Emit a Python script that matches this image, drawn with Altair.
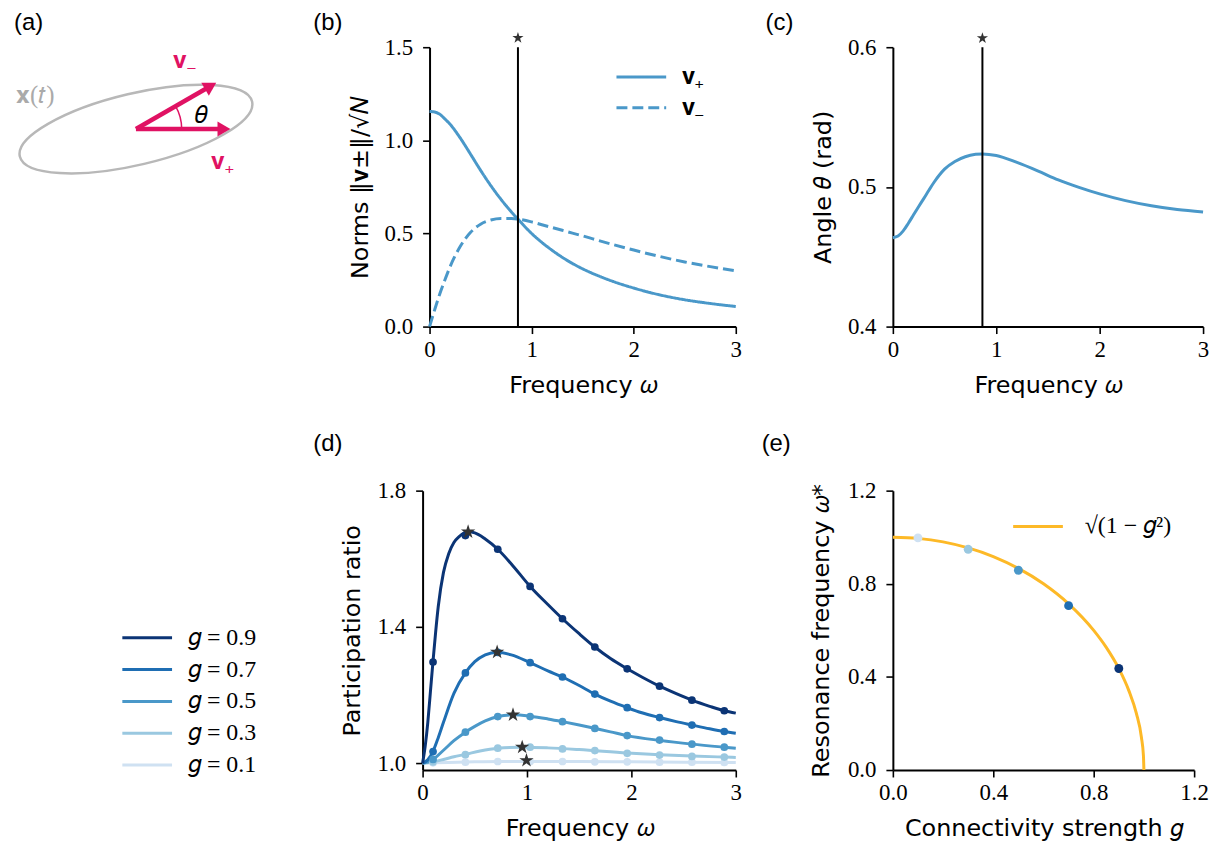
import altair as alt
import pandas as pd

# ---------------- fonts / colours ----------------
SANS = "DejaVu Sans"
SERIF = "Liberation Serif"
LABEL_FONT = "Liberation Sans"
BLUE = "#4a98c9"
PINK = "#e01263"
GRAY = "#b8b8b8"
ORANGE = "#fdb927"
STARC = "#333333"

STAR = ("M0,-1L0.2245,-0.309L0.9511,-0.309L0.3633,0.118L0.5878,0.809L0,0.382"
        "L-0.5878,0.809L-0.3633,0.118L-0.9511,-0.309L-0.2245,-0.309Z")
ELLIPSE = ("M-1,0C-1,-0.1657,-0.5523,-0.3,0,-0.3C0.5523,-0.3,1,-0.1657,1,0"
           "C1,0.1657,0.5523,0.3,0,0.3C-0.5523,0.3,-1,0.1657,-1,0Z")
ARC30 = "M1,0C1,-0.1755,0.9538,-0.348,0.866,-0.5"
LEGLINE = "M-2.5,0L2.5,0"

# ---------------- data ----------------
# (a) schematic, in units of |v+|
ell_center_x = [0.0]
ell_center_y = [0.0]
vec_names = ["v+", "v-"]
vec_tip_x = [1.0, 0.85]
vec_tip_y = [0.0, 0.49]
vec_angle_deg = [0.0, 30.4]
lab_text = ["𝐯₋", "𝐯₊"]
lab_x = [0.393, 0.793]
lab_y = [0.648, -0.418]
xt_text = ["𝐱(𝑡)"]
xt_x = [-1.2705]
xt_y = [0.28]
th_text = ["𝜃"]
th_x = [0.624]
th_y = [0.069]

# (b) norms of v+ / v- (g = 0.5)
w_b = [0, 0.05, 0.1, 0.15, 0.2, 0.3, 0.4, 0.5, 0.6, 0.7, 0.8, 0.866, 1.0, 1.1, 1.2,
       1.3, 1.4, 1.5, 1.6, 1.8, 2.0, 2.25, 2.5, 2.75, 3.0]
norm_plus = [1.155, 1.152, 1.14, 1.115, 1.087, 1.013, 0.927, 0.839, 0.757, 0.683,
             0.617, 0.577, 0.500, 0.452, 0.410, 0.372, 0.339, 0.310, 0.285, 0.242,
             0.207, 0.171, 0.144, 0.124, 0.108]
norm_minus = [0.0, 0.09, 0.175, 0.25, 0.32, 0.43, 0.505, 0.55, 0.572, 0.58, 0.58,
              0.577, 0.562, 0.547, 0.532, 0.517, 0.502, 0.487, 0.471, 0.440, 0.411,
              0.377, 0.347, 0.322, 0.30]
omega_star = 0.866

# (c) angle theta
w_c = [0, 0.05, 0.1, 0.15, 0.2, 0.25, 0.3, 0.35, 0.4, 0.45, 0.5, 0.6, 0.7, 0.8, 0.866,
       1.0, 1.2, 1.4, 1.6, 1.8, 2.0, 2.25, 2.5, 2.75, 3.0]
theta_c = [0.4636, 0.4648, 0.4685, 0.474, 0.480, 0.486, 0.4918, 0.4978, 0.5035,
           0.5085, 0.5127, 0.5182, 0.5216, 0.5233, 0.5236, 0.5225, 0.5175, 0.5115,
           0.5050, 0.4997, 0.4950, 0.4902, 0.4865, 0.4838, 0.4821]

# (d) participation ratio
g_levels = ["0.9", "0.7", "0.5", "0.3", "0.1"]
g_colors = ["#0b3475", "#1f6eb3", "#4a98c9", "#9ac8e0", "#cfe1f2"]
w_09 = [0, 0.025, 0.05, 0.075, 0.1, 0.125, 0.15, 0.2, 0.25, 0.3, 0.35, 0.436, 0.5,
        0.6, 0.72, 0.85, 1.03, 1.2, 1.34, 1.5, 1.65, 1.8, 1.96, 2.1, 2.27, 2.43,
        2.58, 2.75, 2.89, 3.0]
pr_09 = [1.0, 1.05, 1.12, 1.21, 1.30, 1.385, 1.46, 1.56, 1.615, 1.648, 1.665, 1.679,
         1.676, 1.658, 1.628, 1.585, 1.519, 1.466, 1.424, 1.38, 1.341, 1.307, 1.277,
         1.253, 1.226, 1.204, 1.185, 1.167, 1.154, 1.147]
w_07 = [0, 0.05, 0.1, 0.15, 0.2, 0.3, 0.41, 0.5, 0.6, 0.714, 0.85, 1.03, 1.2, 1.34,
        1.5, 1.65, 1.8, 1.96, 2.1, 2.27, 2.43, 2.58, 2.75, 2.89, 3.0]
pr_07 = [1.0, 1.01, 1.035, 1.075, 1.12, 1.205, 1.265, 1.298, 1.318, 1.326, 1.318,
         1.295, 1.271, 1.253, 1.228, 1.203, 1.182, 1.163, 1.148, 1.134, 1.122,
         1.112, 1.101, 1.093, 1.088]
w_05 = [0, 0.05, 0.1, 0.2, 0.3, 0.41, 0.5, 0.6, 0.72, 0.866, 1.03, 1.2, 1.34, 1.5,
        1.65, 1.8, 1.96, 2.27, 2.58, 2.89, 3.0]
pr_05 = [1.0, 1.003, 1.011, 1.038, 1.066, 1.091, 1.108, 1.124, 1.137, 1.142, 1.138,
         1.13, 1.122, 1.112, 1.102, 1.092, 1.081, 1.067, 1.056, 1.047, 1.044]
w_03 = [0, 0.1, 0.2, 0.3, 0.41, 0.55, 0.72, 0.954, 1.2, 1.5, 1.96, 2.27, 2.58, 2.89, 3.0]
pr_03 = [1.0, 1.004, 1.011, 1.019, 1.026, 1.036, 1.044, 1.047, 1.045, 1.04, 1.03,
         1.025, 1.021, 1.018, 1.017]
w_01 = [0, 0.25, 0.5, 0.75, 1.0, 1.5, 2.0, 2.5, 3.0]
pr_01 = [1.0, 1.002, 1.004, 1.005, 1.005, 1.005, 1.004, 1.003, 1.002]

w_sim = [0.1, 0.41, 0.72, 1.03, 1.34, 1.65, 1.96, 2.27, 2.58, 2.89]
sim_09 = [1.297, 1.668, 1.628, 1.519, 1.424, 1.341, 1.277, 1.226, 1.185, 1.154]
sim_07 = [1.034, 1.265, 1.325, 1.295, 1.253, 1.203, 1.163, 1.134, 1.112, 1.093]
sim_05 = [1.011, 1.091, 1.137, 1.137, 1.122, 1.102, 1.081, 1.068, 1.056, 1.047]
sim_03 = [1.004, 1.025, 1.044, 1.047, 1.042, 1.037, 1.029, 1.024, 1.020, 1.018]
sim_01 = [1.001, 1.003, 1.005, 1.005, 1.005, 1.004, 1.004, 1.003, 1.003, 1.002]

star_w = [0.436, 0.714, 0.866, 0.954, 0.995]
star_pr = [1.679, 1.326, 1.142, 1.047, 1.008]

# (e) resonance frequency
g_pts = [0.1, 0.3, 0.5, 0.7, 0.9]
g_pts_lab = ["0.1", "0.3", "0.5", "0.7", "0.9"]
wres_pts = [0.997, 0.948, 0.858, 0.706, 0.436]
g_curve = [0, 0.1, 0.2, 0.3, 0.4, 0.5, 0.6, 0.7, 0.8, 0.85, 0.9, 0.94, 0.97, 0.99,
           0.998, 1.0]
wres_curve = [1.0, 0.995, 0.98, 0.954, 0.917, 0.866, 0.80, 0.714, 0.60, 0.527, 0.436,
              0.341, 0.243, 0.141, 0.063, 0.0]
curve_label = "√(1 − 𝑔²)"

panel_letters = ["(a)", "(b)", "(c)", "(d)", "(e)"]


def sc(domain, **kw):
    return alt.Scale(domain=domain, nice=False, zero=False, **kw)


def plabel(text, dx, dy):
    return alt.Chart(pd.DataFrame({"t": [text]})).mark_text(
        align="left", baseline="top", font=LABEL_FONT, fontSize=24, color="black").encode(
        x=alt.value(dx), y=alt.value(dy), text="t:N")


# ---------------- (a) ----------------
xa = alt.X("x:Q", scale=sc([-1.3126, 1.3716]), axis=None)
ya = alt.Y("y:Q", scale=sc([-2.0916, 0.8663]), axis=None)

ell = alt.Chart(pd.DataFrame({"x": ell_center_x, "y": ell_center_y})).mark_point(
    shape=ELLIPSE, size=57600, angle=346.7, filled=False, color=GRAY,
    strokeWidth=2.5, opacity=1).encode(x=xa, y=ya)

head_off = 0.0684
vec_df = pd.DataFrame({
    "name": vec_names,
    "x": [0.0, 0.0], "y": [0.0, 0.0],
    "hx": [tx - head_off * (tx / (tx ** 2 + ty ** 2) ** 0.5) for tx, ty in zip(vec_tip_x, vec_tip_y)],
    "hy": [ty - head_off * (ty / (tx ** 2 + ty ** 2) ** 0.5) for tx, ty in zip(vec_tip_x, vec_tip_y)],
    "rot": [(360 - a) % 360 for a in vec_angle_deg],
})
shafts = alt.Chart(vec_df).mark_rule(color=PINK, strokeWidth=4.5, strokeCap="butt").encode(
    x=xa, y=ya, x2="hx:Q", y2="hy:Q")
heads = alt.Chart(vec_df).mark_point(shape="triangle-right", size=225, filled=True,
                                     color=PINK, opacity=1, strokeWidth=0).encode(
    x=alt.X("hx:Q", scale=sc([-1.3126, 1.3716]), axis=None),
    y=alt.Y("hy:Q", scale=sc([-2.0916, 0.8663]), axis=None),
    angle=alt.Angle("rot:Q", scale=None))
arc = alt.Chart(pd.DataFrame({"x": [0.0], "y": [0.0]})).mark_point(
    shape=ARC30, size=8464, filled=False, color=PINK, strokeWidth=1.5, opacity=1).encode(x=xa, y=ya)
vlabels = alt.Chart(pd.DataFrame({"x": lab_x, "y": lab_y, "t": lab_text})).mark_text(
    align="left", baseline="alphabetic", font=SERIF, fontSize=25, color=PINK).encode(
    x=xa, y=ya, text="t:N")
xtlabel = alt.Chart(pd.DataFrame({"x": xt_x, "y": xt_y, "t": xt_text})).mark_text(
    align="left", baseline="alphabetic", font=SERIF, fontSize=25, color="#aaaaaa").encode(
    x=xa, y=ya, text="t:N")
thlabel = alt.Chart(pd.DataFrame({"x": th_x, "y": th_y, "t": th_text})).mark_text(
    align="left", baseline="alphabetic", font=SERIF, fontSize=25, color="black").encode(
    x=xa, y=ya, text="t:N")
pa = alt.layer(ell, shafts, heads, arc, vlabels, xtlabel, thlabel,
               plabel(panel_letters[0], 2, -36)).properties(width=255, height=281)

# ---------------- (b) ----------------
n_b = len(w_b)
df_b = pd.DataFrame({"w": w_b + w_b, "v": norm_plus + norm_minus,
                     "vec": ["𝐯₊"] * n_b + ["𝐯₋"] * n_b})
xb = alt.X("w:Q", scale=sc([0, 3], range=[7, 315]),
           axis=alt.Axis(values=[0, 1, 2, 3], format="d", title="Frequency 𝜔", titlePadding=12))
yb = alt.Y("v:Q", scale=sc([0, 1.5]),
           axis=alt.Axis(values=[0, 0.5, 1.0, 1.5], format=".1f", title="Norms ‖𝐯±‖/√𝑁",
                         titlePadding=12, offset=-7))
leg_common = dict(title=None, orient="none", symbolType=LEGLINE, symbolSize=400,
                  symbolStrokeWidth=3, symbolFillColor="transparent", labelFont=SERIF,
                  labelFontSize=24, labelColor="black", padding=0)
lines_b = alt.Chart(df_b).mark_line(color=BLUE, strokeWidth=3, interpolate="monotone").encode(
    x=xb, y=yb,
    strokeDash=alt.StrokeDash("vec:N", scale=alt.Scale(domain=["𝐯₊", "𝐯₋"], range=[[1, 0], [11, 5]]),
                              legend=alt.Legend(legendX=208, legendY=18, rowPadding=7,
                                                labelOffset=29, symbolStrokeColor=BLUE,
                                                **leg_common)))
rule_b = alt.Chart(pd.DataFrame({"w": [omega_star], "v": [0.0], "v2": [1.5]})).mark_rule(
    color="black", strokeWidth=2).encode(x=xb, y=yb, y2="v2:Q")
star_b = alt.Chart(pd.DataFrame({"w": [omega_star], "v": [1.55]})).mark_point(
    shape=STAR, size=140, filled=True, color=STARC, opacity=1, strokeWidth=0).encode(x=xb, y=yb)
pb = alt.layer(lines_b, rule_b, star_b, plabel(panel_letters[1], -110, -36)).properties(
    width=315, height=281)

# ---------------- (c) ----------------
xc = alt.X("w:Q", scale=sc([0, 3]),
           axis=alt.Axis(values=[0, 1, 2, 3], format="d", title="Frequency 𝜔", titlePadding=12))
yc = alt.Y("t:Q", scale=sc([0.4, 0.6]),
           axis=alt.Axis(values=[0.4, 0.5, 0.6], format=".1f", title="Angle 𝜃 (rad)", titlePadding=12))
line_c = alt.Chart(pd.DataFrame({"w": w_c, "t": theta_c})).mark_line(
    color=BLUE, strokeWidth=3, interpolate="monotone").encode(x=xc, y=yc)
rule_c = alt.Chart(pd.DataFrame({"w": [omega_star], "t": [0.4], "t2": [0.6]})).mark_rule(
    color="black", strokeWidth=2).encode(x=xc, y=yc, y2="t2:Q")
star_c = alt.Chart(pd.DataFrame({"w": [omega_star], "t": [0.6065]})).mark_point(
    shape=STAR, size=140, filled=True, color=STARC, opacity=1, strokeWidth=0).encode(x=xc, y=yc)
pc = alt.layer(line_c, rule_c, star_c, plabel(panel_letters[2], -128, -36)).properties(
    width=312, height=281)

# ---------------- blank cell (holds (d) legend space) ----------------
blank = alt.Chart(pd.DataFrame({"x": [0]})).mark_point(opacity=0).encode(
    x=alt.value(0), y=alt.value(0)).properties(width=255, height=281)

# ---------------- (d) ----------------
curves = [("0.9", w_09, pr_09), ("0.7", w_07, pr_07), ("0.5", w_05, pr_05),
          ("0.3", w_03, pr_03), ("0.1", w_01, pr_01)]
rows = []
for g, ws, ps in curves[::-1]:
    rows += [{"g": g, "w": a, "pr": b} for a, b in zip(ws, ps)]
df_d = pd.DataFrame(rows)
sims = [("0.9", sim_09), ("0.7", sim_07), ("0.5", sim_05), ("0.3", sim_03), ("0.1", sim_01)]
srows = []
for g, ps in sims[::-1]:
    srows += [{"g": g, "w": a, "pr": b} for a, b in zip(w_sim, ps)]
df_ds = pd.DataFrame(srows)

xd = alt.X("w:Q", scale=sc([0, 3]),
           axis=alt.Axis(values=[0, 1, 2, 3], format="d", title="Frequency 𝜔", titlePadding=12))
yd = alt.Y("pr:Q", scale=sc([0.98, 1.8]),
           axis=alt.Axis(values=[1.0, 1.4, 1.8], format=".1f", title="Participation ratio",
                         titlePadding=13))
lines_d = alt.Chart(df_d).mark_line(strokeWidth=3, interpolate="monotone").encode(
    x=xd, y=yd,
    color=alt.Color("g:N", scale=alt.Scale(domain=g_levels, range=g_colors),
                    legend=alt.Legend(legendX=-289, legendY=136, rowPadding=8, labelOffset=29,
                                      labelExpr="'𝑔 = ' + datum.label", **leg_common)))
pts_d = alt.Chart(df_ds).mark_circle(size=60, opacity=1).encode(
    x=xd, y=yd, fill=alt.Fill("g:N", scale=alt.Scale(domain=g_levels, range=g_colors), legend=None))
stars_d = alt.Chart(pd.DataFrame({"w": star_w, "pr": star_pr})).mark_point(
    shape=STAR, size=230, filled=True, color=STARC, opacity=1, strokeWidth=0).encode(x=xd, y=yd)
pdd = alt.layer(lines_d, pts_d, stars_d, plabel(panel_letters[3], -110, -59)).properties(
    width=315, height=281)

# ---------------- (e) ----------------
xe = alt.X("g:Q", scale=sc([0, 1.2]),
           axis=alt.Axis(values=[0, 0.4, 0.8, 1.2], format=".1f", title="Connectivity strength 𝑔",
                         titlePadding=12))
ye = alt.Y("wr:Q", scale=sc([0, 1.2]),
           axis=alt.Axis(values=[0, 0.4, 0.8, 1.2], format=".1f", title="Resonance frequency 𝜔*",
                         titlePadding=14))
line_e = alt.Chart(pd.DataFrame({"g": g_curve, "wr": wres_curve,
                                 "lab": [curve_label] * len(g_curve)})).mark_line(
    strokeWidth=3, interpolate="monotone").encode(
    x=xe, y=ye,
    color=alt.Color("lab:N", scale=alt.Scale(domain=[curve_label], range=[ORANGE]),
                    legend=alt.Legend(legendX=134, legendY=24, labelOffset=35, **leg_common)))
pts_e = alt.Chart(pd.DataFrame({"g": g_pts, "wr": wres_pts, "gl": g_pts_lab})).mark_circle(
    size=80, opacity=1).encode(
    x=xe, y=ye, fill=alt.Fill("gl:N", scale=alt.Scale(domain=g_levels, range=g_colors), legend=None))
pe = alt.layer(line_e, pts_e, plabel(panel_letters[4], -132, -59)).properties(width=303, height=281)

chart = alt.concat(pa, pb, pc, blank, pdd, pe, columns=3,
                   spacing={"row": 165, "column": 158}, bounds="flush", align="each").resolve_scale(
    color="independent", fill="independent", strokeDash="independent",
    x="independent", y="independent"
).resolve_legend(color="independent", fill="independent", strokeDash="independent").properties(
    padding={"left": 0, "top": 0, "right": 5, "bottom": 5}, background="white"
).configure_view(stroke="transparent", fill="white").configure_axis(
    grid=False, domainColor="black", domainWidth=2, tickColor="black", tickWidth=1.6,
    tickSize=7, labelFont=SERIF, labelFontSize=23, labelColor="black", labelFlush=False,
    titleFont=SANS, titleFontSize=24, titleFontWeight="normal", titleColor="black"
).configure_axisX(labelPadding=5).configure_axisY(labelPadding=10)

chart.save("out.html", embed_options={"renderer": "svg", "actions": False})
